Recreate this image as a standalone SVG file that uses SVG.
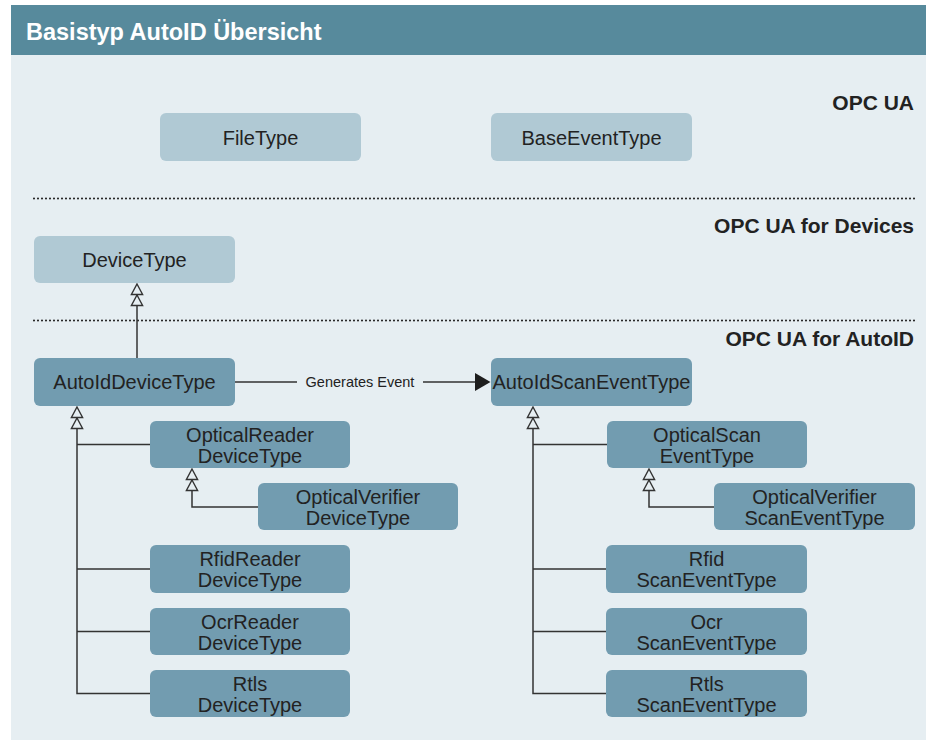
<svg xmlns="http://www.w3.org/2000/svg" xmlns:xlink="http://www.w3.org/1999/xlink" width="926" height="740" viewBox="0 0 926 740">
  <style>
    .hdr { fill: #578a9c; }
    .body { fill: #e6eef2; }
    .title { font-family: "Liberation Sans", Arial, sans-serif; font-size: 23.5px; font-weight: bold; fill: #ffffff; }
    .layer { font-family: "Liberation Sans", Arial, sans-serif; font-size: 21px; font-weight: bold; fill: #222222; text-anchor: end; }
    .sep { stroke: #2a2a2a; stroke-width: 2.2; stroke-linecap: round; stroke-dasharray: 0 4; fill: none; }
    .base { fill: #b0c9d4; }
    .auto { fill: #729cb0; }
    .lbl { font-family: "Liberation Sans", Arial, sans-serif; font-size: 20px; fill: #222222; text-anchor: middle; }
    .conn { stroke: #333333; stroke-width: 1.5; fill: none; }
    .edge-lbl { font-family: "Liberation Sans", Arial, sans-serif; font-size: 14.5px; fill: #222222; text-anchor: middle; }
  </style>
  <defs>
    <!-- double hollow triangle used for the "derived from" relation, tip at origin -->
    <g id="gen">
      <path d="M0 0 L5.6 10.5 L-5.6 10.5 Z M0 11 L5.6 21.5 L-5.6 21.5 Z" fill="#e6eef2" stroke="#333333" stroke-width="1.4" stroke-linejoin="miter"/>
    </g>
  </defs>

  <!-- panel -->
  <rect class="body" x="11" y="55" width="915" height="685"/>
  <rect class="hdr" x="11" y="5" width="915" height="50"/>
  <text class="title" x="26" y="40">Basistyp AutoID Übersicht</text>

  <!-- layers -->
  <text class="layer" x="914" y="110">OPC UA</text>
  <line class="sep" x1="34" y1="198.5" x2="916" y2="198.5"/>
  <text class="layer" x="914" y="233">OPC UA for Devices</text>
  <line class="sep" x1="34" y1="320.5" x2="916" y2="320.5"/>
  <text class="layer" x="914" y="346">OPC UA for AutoID</text>

  <!-- connectors -->
  <g id="connectors">
    <path class="conn" d="M137 306 V358"/>
    <use xlink:href="#gen" x="137" y="284"/>

    <path class="conn" d="M77 428 V693.5 H150 M77 444.5 H150 M77 569 H150 M77 631.5 H150"/>
    <use xlink:href="#gen" x="77" y="407"/>

    <path class="conn" d="M192 490 V507 H258"/>
    <use xlink:href="#gen" x="192" y="469"/>

    <path class="conn" d="M533 428 V693.5 H606 M533 444.5 H607 M533 569 H606 M533 631.5 H606"/>
    <use xlink:href="#gen" x="533" y="407"/>

    <path class="conn" d="M649 490 V507 H714"/>
    <use xlink:href="#gen" x="649" y="469"/>

    <path class="conn" d="M235 382 H297 M423 382 H476"/>
    <path d="M475 373 L490.5 382 L475 391 Z" fill="#1e1e1e"/>
    <text class="edge-lbl" x="360" y="387">Generates Event</text>
  </g>

  <!-- OPC UA -->
  <g id="fileType">
    <rect class="base" x="160" y="113" width="201" height="48" rx="6"/>
    <text class="lbl" x="260.5" y="144.5">FileType</text>
  </g>
  <g id="baseEventType">
    <rect class="base" x="491" y="113" width="201" height="48" rx="6"/>
    <text class="lbl" x="591.5" y="144.5">BaseEventType</text>
  </g>

  <!-- OPC UA for Devices -->
  <g id="deviceType">
    <rect class="base" x="34" y="236" width="201" height="47" rx="6"/>
    <text class="lbl" x="134.5" y="267">DeviceType</text>
  </g>

  <!-- OPC UA for AutoID -->
  <g id="autoIdDeviceType">
    <rect class="auto" x="34" y="358" width="201" height="48" rx="6"/>
    <text class="lbl" x="134.5" y="389">AutoIdDeviceType</text>
  </g>
  <g id="autoIdScanEventType">
    <rect class="auto" x="491" y="358" width="201" height="48" rx="6"/>
    <text class="lbl" x="591.5" y="389">AutoIdScanEventType</text>
  </g>

  <g id="opticalReaderDeviceType">
    <rect class="auto" x="150" y="421" width="200" height="47" rx="6"/>
    <text class="lbl" x="250" y="441.5">OpticalReader</text>
    <text class="lbl" x="250" y="462.5">DeviceType</text>
  </g>
  <g id="opticalVerifierDeviceType">
    <rect class="auto" x="258" y="483" width="200" height="47" rx="6"/>
    <text class="lbl" x="358" y="503.5">OpticalVerifier</text>
    <text class="lbl" x="358" y="524.5">DeviceType</text>
  </g>
  <g id="rfidReaderDeviceType">
    <rect class="auto" x="150" y="545" width="200" height="48" rx="6"/>
    <text class="lbl" x="250" y="566">RfidReader</text>
    <text class="lbl" x="250" y="587">DeviceType</text>
  </g>
  <g id="ocrReaderDeviceType">
    <rect class="auto" x="150" y="608" width="200" height="47" rx="6"/>
    <text class="lbl" x="250" y="628.5">OcrReader</text>
    <text class="lbl" x="250" y="649.5">DeviceType</text>
  </g>
  <g id="rtlsDeviceType">
    <rect class="auto" x="150" y="670" width="200" height="47" rx="6"/>
    <text class="lbl" x="250" y="690.5">Rtls</text>
    <text class="lbl" x="250" y="711.5">DeviceType</text>
  </g>

  <g id="opticalScanEventType">
    <rect class="auto" x="607" y="421" width="200" height="47" rx="6"/>
    <text class="lbl" x="707" y="441.5">OpticalScan</text>
    <text class="lbl" x="707" y="462.5">EventType</text>
  </g>
  <g id="opticalVerifierScanEventType">
    <rect class="auto" x="714" y="483" width="201" height="47" rx="6"/>
    <text class="lbl" x="814.5" y="503.5">OpticalVerifier</text>
    <text class="lbl" x="814.5" y="524.5">ScanEventType</text>
  </g>
  <g id="rfidScanEventType">
    <rect class="auto" x="606" y="545" width="201" height="48" rx="6"/>
    <text class="lbl" x="706.5" y="566">Rfid</text>
    <text class="lbl" x="706.5" y="587">ScanEventType</text>
  </g>
  <g id="ocrScanEventType">
    <rect class="auto" x="606" y="608" width="201" height="47" rx="6"/>
    <text class="lbl" x="706.5" y="628.5">Ocr</text>
    <text class="lbl" x="706.5" y="649.5">ScanEventType</text>
  </g>
  <g id="rtlsScanEventType">
    <rect class="auto" x="606" y="670" width="201" height="47" rx="6"/>
    <text class="lbl" x="706.5" y="690.5">Rtls</text>
    <text class="lbl" x="706.5" y="711.5">ScanEventType</text>
  </g>
</svg>
